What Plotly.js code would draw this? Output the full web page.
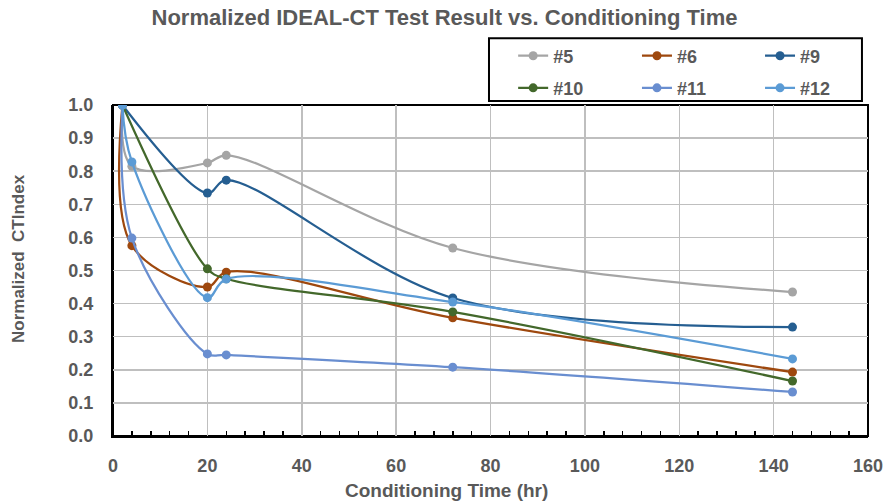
<!DOCTYPE html>
<html>
<head>
<meta charset="utf-8">
<script src="https://cdn.plot.ly/plotly-3.0.1.min.js"></script>
<style>html,body{margin:0;padding:0;background:#fff;}#chart{width:889px;height:502px;}</style>
</head>
<body>
<div id="chart"></div>
<script>
const seriesNames = ["#5", "#6", "#9", "#10", "#11", "#12"];
const x5 = [2, 4, 20, 24, 72, 144];
const y5 = [1.0, 0.815, 0.825, 0.848, 0.568, 0.435];
const x6 = [2, 4, 20, 24, 72, 144];
const y6 = [1.0, 0.575, 0.45, 0.495, 0.357, 0.193];
const x9 = [2, 20, 24, 72, 144];
const y9 = [1.0, 0.734, 0.773, 0.417, 0.329];
const x10 = [2, 20, 24, 72, 144];
const y10 = [1.0, 0.505, 0.475, 0.375, 0.166];
const x11 = [2, 4, 20, 24, 72, 144];
const y11 = [1.0, 0.598, 0.248, 0.245, 0.208, 0.133];
const x12 = [2, 4, 20, 24, 72, 144];
const y12 = [1.0, 0.828, 0.418, 0.474, 0.405, 0.233];
const colors = ["#A5A5A5", "#9E480E", "#255E91", "#43682B", "#698ED0", "#5B9BD5"];

const xs = [x5, x6, x9, x10, x11, x12];
const ys = [y5, y6, y9, y10, y11, y12];
const legendIds = ['legend', 'legend2', 'legend3', 'legend4', 'legend5', 'legend6'];
const traces = seriesNames.map((n, i) => ({
  type: 'scatter', mode: 'lines+markers', name: n,
  x: xs[i], y: ys[i], legend: legendIds[i],
  line: {color: colors[i], width: 2.25, shape: 'spline', smoothing: 1},
  marker: {color: colors[i], size: 9}
}));

const gray = '#595959';
const legFont = {family: 'Liberation Sans, Arial, sans-serif', size: 18, color: gray, weight: 'bold'};
const colX = [0.530, 0.694, 0.857];
const rowY = [1.148, 1.051];
function leg(i) {
  return {orientation: 'v', x: colX[i % 3], xanchor: 'left', y: rowY[Math.floor(i / 3)], yanchor: 'middle',
          bgcolor: 'rgba(0,0,0,0)', borderwidth: 0, font: legFont};
}

const layout = {
  width: 889, height: 502,
  margin: {l: 113, r: 21, t: 105, b: 66, autoexpand: false},
  paper_bgcolor: '#fff', plot_bgcolor: '#fff',
  title: {text: '<b>Normalized IDEAL-CT Test Result vs. Conditioning Time</b>',
          font: {family: 'Liberation Sans Narrow, Arial Narrow, sans-serif', size: 22, color: gray},
          x: 0.5, xanchor: 'center', y: 0.965, yanchor: 'middle'},
  xaxis: {range: [0, 160], dtick: 20, tick0: 0,
          showgrid: true, gridcolor: '#BFBFBF', gridwidth: 1.5,
          zeroline: false, showline: true, linecolor: '#000', linewidth: 2, mirror: false,
          ticks: '', ticklabelstandoff: 12,
          tickfont: {family: 'Liberation Sans, Arial, sans-serif', size: 18, color: gray, weight: 'bold'},
          minor: {dtick: 4, ticks: 'inside', ticklen: 5, tickcolor: '#000', tickwidth: 1.5, showgrid: false}},
  yaxis: {range: [0, 1.0], dtick: 0.1, tickformat: '.1f',
          showgrid: true, gridcolor: '#BFBFBF', gridwidth: 1.5,
          zeroline: false, showline: true, linecolor: '#000', linewidth: 2, mirror: false,
          ticks: '', ticklabelstandoff: 14,
          tickfont: {family: 'Liberation Sans, Arial, sans-serif', size: 18, color: gray, weight: 'bold'}},
  showlegend: true,
  legend: leg(0), legend2: leg(1), legend3: leg(2), legend4: leg(3), legend5: leg(4), legend6: leg(5),
  shapes: [
    {type: 'rect', xref: 'paper', yref: 'paper', x0: 0.498, x1: 0.992, y0: 1.012, y1: 1.202,
     line: {color: '#000', width: 2}, fillcolor: '#fff', layer: 'below'},
    {type: 'rect', xref: 'paper', yref: 'paper', x0: 0, x1: 1, y0: 0, y1: 1,
     line: {color: '#000', width: 2}, fillcolor: 'rgba(0,0,0,0)', layer: 'between'}
  ],
  annotations: [
    {text: '<b>Conditioning Time (hr)</b>', xref: 'paper', yref: 'paper', showarrow: false,
     x: (446 - 113) / 755, y: (436 - 490) / 331, xanchor: 'center', yanchor: 'middle',
     font: {family: 'Liberation Sans Narrow, Arial Narrow, sans-serif', size: 19, color: gray}},
    {text: '<b>Normalized  CTIndex</b>', xref: 'paper', yref: 'paper', showarrow: false, textangle: -90,
     x: (18 - 113) / 755, y: (436 - 259) / 331, xanchor: 'center', yanchor: 'middle',
     font: {family: 'Liberation Sans, Arial, sans-serif', size: 17, color: gray}}
  ]
};
Plotly.newPlot('chart', traces, layout, {displayModeBar: false, staticPlot: true});
</script>
</body>
</html>
